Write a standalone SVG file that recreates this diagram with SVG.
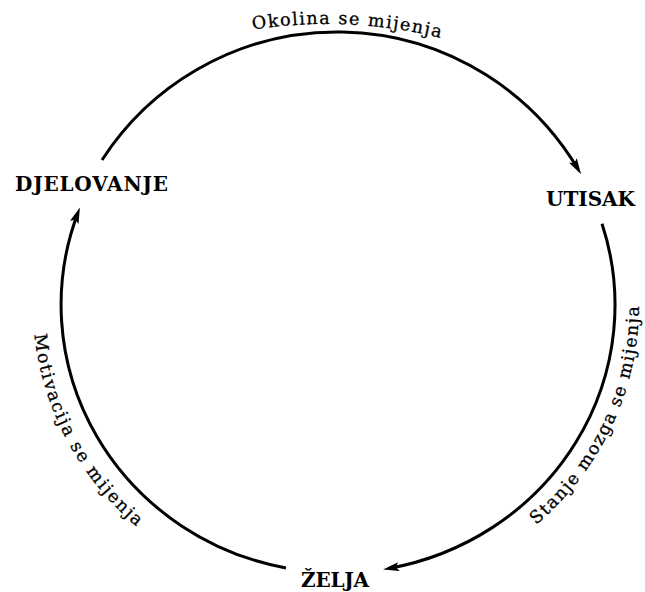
<svg xmlns="http://www.w3.org/2000/svg" width="645" height="592" viewBox="0 0 645 592">
  <style>
    .arc { fill: none; stroke: #000; stroke-width: 3; }
    .node { font-family: "DejaVu Serif", "Liberation Serif", serif; font-weight: bold; font-size: 20px; fill: #000; }
    .lbl { font-family: "DejaVu Serif", "Liberation Serif", serif; font-size: 17.5px; fill: #000; stroke: #000; stroke-width: 0.3; }
  </style>
  <defs>
    <marker id="ah" viewBox="-11 -6 18 12" refX="0" refY="0" markerWidth="18" markerHeight="12" markerUnits="userSpaceOnUse" orient="auto">
      <path d="M6,0 L-10,-4.5 L-7,0 L-10,4.5 Z" fill="#000"/>
    </marker>
    <path id="p-top" d="M200,40.8 A480,480 0 0 1 470,46.1"/>
    <path id="p-right" d="M488.5,557.9 A301,292 0 0 0 620.8,205.1"/>
    <path id="p-left" d="M37.6,253.8 A305,295 0 0 0 185.5,560.5"/>
  </defs>
  <rect width="645" height="592" fill="#fff"/>
  <g id="connectors">
    <path class="arc" d="M102,160 A280,280 0 0 1 578,169.1" marker-end="url(#ah)"/>
    <path class="arc" d="M602,223.8 A277,268 0 0 1 389,568.4" marker-end="url(#ah)"/>
    <path class="arc" d="M286,568 A277,268 0 0 1 77.8,213.1" marker-end="url(#ah)"/>
    <text class="lbl"><textPath href="#p-top" startOffset="54" textLength="189" lengthAdjust="spacing">Okolina se mijenja</textPath></text>
    <text class="lbl"><textPath href="#p-right" startOffset="58" textLength="249" lengthAdjust="spacing">Stanje mozga se mijenja</textPath></text>
    <text class="lbl"><textPath href="#p-left" startOffset="81" textLength="223" lengthAdjust="spacing">Motivacija se mijenja</textPath></text>
  </g>
  <g id="node-djelovanje">
    <text class="node" x="15" y="191" textLength="153" lengthAdjust="spacing">DJELOVANJE</text>
  </g>
  <g id="node-utisak">
    <text class="node" x="546" y="206" textLength="89" lengthAdjust="spacing">UTISAK</text>
  </g>
  <g id="node-zelja">
    <text class="node" x="301" y="587" textLength="68" lengthAdjust="spacing">ŽELJA</text>
  </g>
</svg>
